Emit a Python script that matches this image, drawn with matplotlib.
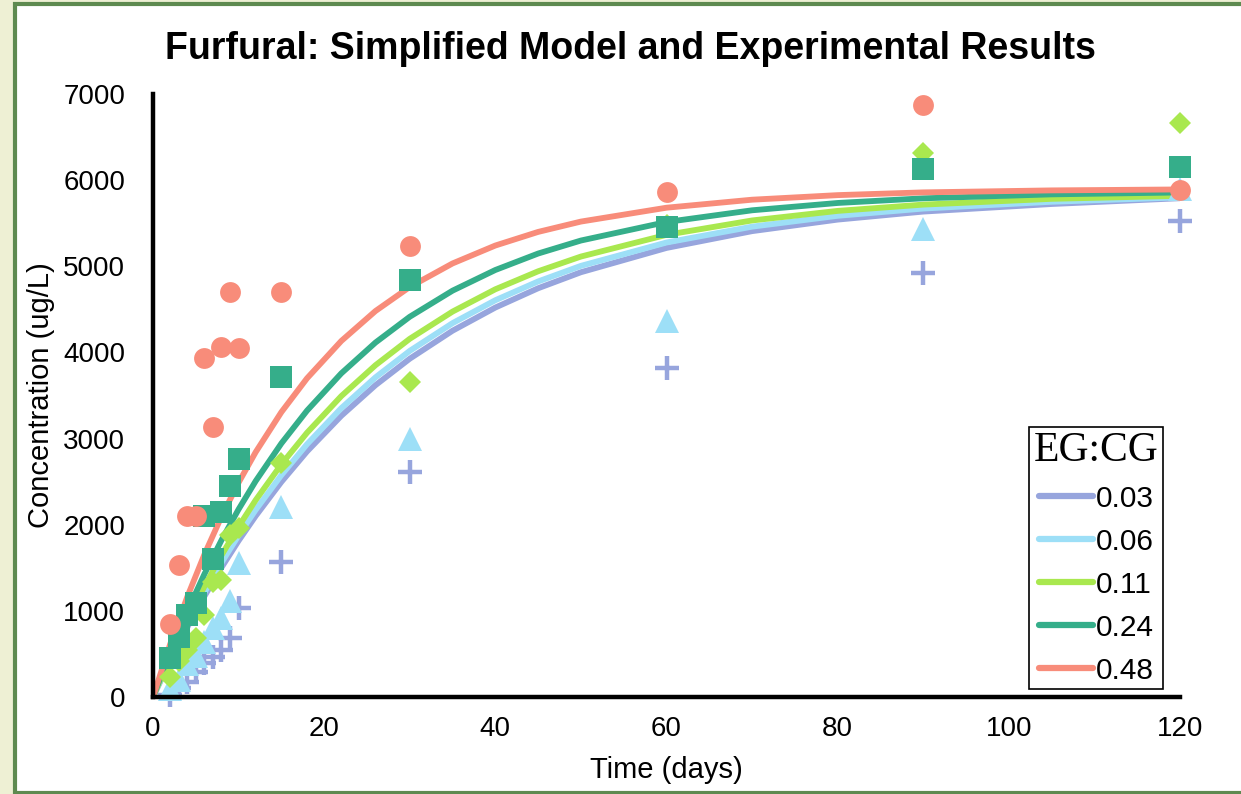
import numpy as np
import matplotlib.pyplot as plt
from matplotlib.patches import Rectangle

# experimental sampling days
days = [2, 3, 4, 5, 6, 7, 8, 9, 10, 15, 30, 60, 90, 120]

# measured furfural concentration (ug/L) per EG:CG ratio
exp_003 = [20, 100, 170, 290, 400, 470, 550, 680, 1030, 1570, 2610, 3820, 4920, 5530]
exp_006 = [90, 200, 380, 480, 640, 800, 920, 1120, 1550, 2200, 3000, 4360, 5430, 5900]
exp_011 = [230, 420, 540, 680, 950, 1330, 1360, 1880, 1960, 2720, 3660, 5480, 6320, 6660]
exp_024 = [455, 700, 950, 1090, 2100, 1600, 2150, 2450, 2760, 3720, 4840, 5460, 6130, 6150]
exp_048 = [850, 1530, 2100, 2100, 3930, 3140, 4060, 4700, 4050, 4700, 5230, 5860, 6870, 5890]

# simplified model curves
t_model = [0, 2, 4, 6, 8, 10, 12, 15, 18, 22, 26, 30, 35, 40, 45, 50, 60, 70, 80, 90, 105, 120]
mod_003 = [0, 419, 808, 1168, 1503, 1814, 2102, 2497, 2851, 3264, 3620, 3927, 4252, 4521,
           4745, 4931, 5213, 5408, 5542, 5635, 5723, 5790]
mod_006 = [0, 436, 839, 1212, 1558, 1877, 2173, 2576, 2935, 3353, 3711, 4018, 4340, 4606,
           4824, 5005, 5276, 5460, 5586, 5670, 5749, 5800]
mod_011 = [0, 464, 890, 1283, 1645, 1979, 2286, 2701, 3068, 3493, 3852, 4158, 4474, 4733,
           4942, 5113, 5365, 5532, 5643, 5716, 5783, 5818]
mod_024 = [0, 520, 994, 1426, 1820, 2179, 2507, 2944, 3325, 3757, 4115, 4414, 4717, 4957,
           5148, 5299, 5514, 5650, 5735, 5789, 5835, 5857]
mod_048 = [0, 612, 1161, 1653, 2094, 2489, 2843, 3307, 3700, 4133, 4481, 4760, 5033, 5241,
           5399, 5519, 5680, 5773, 5826, 5858, 5881, 5892]

labels = ['0.03', '0.06', '0.11', '0.24', '0.48']
colors = ['#97a5dd', '#9ddff7', '#a9e84f', '#35ae8a', '#f88c7a']

fig = plt.figure(figsize=(12.41, 7.94), dpi=100, facecolor='#eef0d4')
W, H = 1241, 794
fig.patches.append(Rectangle((15 / W, 1 - 793 / H), 1.0, (793 - 4) / H, transform=fig.transFigure,
                             facecolor='white', edgecolor='#5e8a50', linewidth=3, zorder=-1))

ax = fig.add_axes([153 / W, 1 - 697 / H, (1180 - 153) / W, (697 - 94) / H])
ax.set_facecolor('none')
ax.set_zorder(1)

models = [mod_003, mod_006, mod_011, mod_024, mod_048]
for m, c, lab in zip(models, colors, labels):
    ax.plot(t_model, m, color=c, lw=4.2, label=lab, solid_capstyle='round', zorder=2)

ax.plot(days, exp_003, ls='none', marker='+', ms=17, mew=3.2, color=colors[0], zorder=3, clip_on=False)
ax.plot(days, exp_006, ls='none', marker='^', ms=17, mew=0, color=colors[1], zorder=3, clip_on=False)
ax.plot(days, exp_011, ls='none', marker='D', ms=11.7, mew=0, color=colors[2], zorder=3, clip_on=False)
ax.plot(days, exp_024, ls='none', marker='s', ms=15.8, mew=0, color=colors[3], zorder=3, clip_on=False)
ax.plot(days, exp_048, ls='none', marker='o', ms=15, mew=0, color=colors[4], zorder=3, clip_on=False)

ax.set_xlim(0, 120)
ax.set_ylim(0, 7000)
ax.set_xticks(np.arange(0, 121, 20))
ax.set_yticks(np.arange(0, 7001, 1000))
for s in ['top', 'right']:
    ax.spines[s].set_visible(False)
for s in ['left', 'bottom']:
    ax.spines[s].set_linewidth(3.2)
    ax.spines[s].set_color('black')
    ax.spines[s].set_zorder(4)
ax.tick_params(length=0, labelsize=20)
ax.tick_params(axis='y', pad=20)
ax.tick_params(axis='x', pad=14)
for lbl in ax.get_xticklabels() + ax.get_yticklabels():
    lbl.set_family('Liberation Sans')

ax.set_xlabel('Time (days)', fontsize=21, family='Liberation Sans', labelpad=10)
ax.set_ylabel('Concentration (ug/L)', fontsize=21, family='Liberation Sans', labelpad=6)

fig.text(630 / W, 1 - 49 / H, 'Furfural: Simplified Model and Experimental Results',
         ha='center', va='center', fontsize=27, fontweight='bold', family='Liberation Sans')

leg = ax.legend(loc='lower right', bbox_to_anchor=((1163 - 153) / (1180 - 153), (697 - 689) / (697 - 94)),
                frameon=True, fancybox=False, edgecolor='black', framealpha=1,
                prop={'family': 'Liberation Sans', 'size': 21.5}, handlelength=1.8,
                handletextpad=0.1, labelspacing=0.5, borderpad=0.15, borderaxespad=0,
                title='EG:CG', title_fontproperties={'family': 'Liberation Serif', 'size': 30})
leg.get_frame().set_linewidth(1.2)
for line in leg.get_lines():
    line.set_linewidth(4.5)

fig.savefig('out.png', dpi=100, facecolor=fig.get_facecolor())
